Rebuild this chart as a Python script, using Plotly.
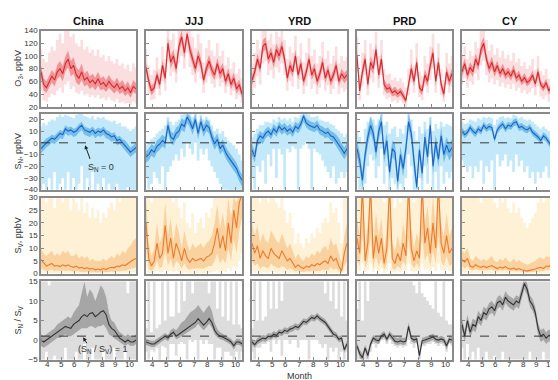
import plotly.graph_objects as go

W, H = 558, 380
REGIONS = ["China", "JJJ", "YRD", "PRD", "CY"]
MONTH_TICKS = [4, 5, 6, 7, 8, 9, 10]
DAYS = list(range(0, 211, 6))  # sampling days from 1 April

# ---------------- O3 (ppbV) ----------------
O3_CHINA_MED = [75,55,50,60,68,62, 75,80,72,88,95,80, 85,70,65,75,62,66, 58,62,56,64,55,58, 52,60,54,50,56,48, 52,45,50,42,52,48]
O3_CHINA_ILO = [65,45,42,50,58,52, 64,68,60,76,82,68, 72,58,54,62,52,55, 48,52,46,53,46,48, 43,50,45,41,46,40, 43,37,41,34,43,40]
O3_CHINA_IHI = [85,65,60,70,78,72, 86,92,84,100,108,92, 98,82,78,88,72,77, 68,72,66,75,65,68, 62,70,63,59,66,57, 62,54,60,51,62,57]
O3_CHINA_OLO = [45,30,28,35,40,38, 45,50,42,55,60,48, 52,42,40,45,38,40, 35,38,34,38,32,34, 30,35,30,28,32,26, 28,25,26,22,28,25]
O3_CHINA_OHI = [110,95,90,105,115,108, 125,135,120,140,140,130, 135,120,115,125,110,115, 105,110,100,110,98,102, 92,100,92,88,95,85, 88,80,86,76,88,82]

O3_JJJ_MED = [82,60,45,50,70,55, 85,65,120,90,100,80, 115,130,105,135,110,95, 80,100,88,62,80,92, 78,70,88,72,80,60, 72,55,65,48,55,40]
O3_JJJ_ILO = [74,52,38,43,62,47, 76,56,110,80,90,71, 105,120,95,125,100,85, 71,90,79,54,71,82, 69,62,79,63,71,52, 63,47,56,40,47,33]
O3_JJJ_IHI = [90,68,53,58,78,63, 94,74,130,100,110,89, 125,140,115,140,120,105, 89,110,97,70,89,102, 87,78,97,81,89,68, 81,63,74,56,63,48]
O3_JJJ_OLO = [60,40,30,32,48,38, 60,45,90,68,75,58, 88,100,80,105,82,70, 58,75,64,42,58,68, 56,50,64,52,58,42, 52,38,45,32,38,26]
O3_JJJ_OHI = [110,85,70,78,98,80, 115,95,140,125,135,110, 140,140,140,140,140,130, 112,135,120,90,112,125, 108,100,120,100,108,85, 98,80,90,72,80,65]

O3_YRD_MED = [62,75,95,80,115,120, 95,105,90,110,100,115, 95,65,85,75,100,70, 88,60,75,95,70,80, 60,72,90,65,78,60, 70,85,60,72,65,70]
O3_YRD_ILO = [54,66,86,72,105,110, 86,96,81,100,91,105, 86,57,76,67,90,62, 79,52,67,86,62,71, 52,64,81,57,70,52, 62,76,52,64,57,62]
O3_YRD_IHI = [70,84,104,89,125,130, 104,114,99,120,109,125, 104,73,94,83,110,78, 97,68,83,104,78,89, 68,80,99,73,86,68, 78,94,68,80,73,78]
O3_YRD_OLO = [40,50,68,55,88,92, 70,78,65,82,74,88, 70,45,60,52,75,48, 62,40,52,68,48,56, 40,50,62,45,54,40, 48,60,40,50,44,48]
O3_YRD_OHI = [88,105,125,110,140,140, 125,135,118,138,130,140, 125,95,115,105,132,100, 120,90,105,128,100,110, 88,100,122,95,108,88, 100,115,88,100,92,98]

O3_PRD_MED = [100,45,75,95,55,90, 80,110,70,95,55,48, 50,42,45,40,44,38, 30,55,80,60,90,50, 45,70,60,85,105,60, 90,55,40,75,60,72]
O3_PRD_ILO = [90,38,66,85,47,80, 71,100,61,85,47,41, 43,36,38,34,38,32, 25,47,71,52,80,43, 38,61,52,75,95,52, 80,47,33,66,52,63]
O3_PRD_IHI = [110,53,84,105,63,100, 89,120,79,105,63,55, 57,48,52,46,50,44, 35,63,89,68,100,57, 52,79,68,95,115,68, 100,63,47,84,68,81]
O3_PRD_OLO = [75,30,52,70,38,65, 58,85,50,70,38,32, 35,28,30,26,30,25, 20,38,58,42,68,35, 30,52,42,62,80,42, 68,38,28,55,42,52]
O3_PRD_OHI = [130,70,105,125,80,120, 110,138,100,125,80,70, 72,62,66,60,65,58, 50,80,110,85,120,75, 68,100,88,115,135,88, 120,80,62,105,88,100]

O3_CY_MED = [75,88,70,82,75,95, 85,110,120,95,80,90, 75,85,72,80,70,75, 68,78,65,70,60,66, 58,62,70,56,75,55, 50,58,45,52,42,58]
O3_CY_ILO = [67,80,62,74,67,86, 77,100,110,86,72,81, 67,77,65,72,63,68, 61,70,58,63,54,59, 52,56,63,50,67,49, 44,52,39,46,36,51]
O3_CY_IHI = [83,96,78,90,83,104, 93,120,130,104,88,99, 83,93,79,88,77,82, 75,86,72,77,66,73, 64,68,77,62,83,61, 56,64,51,58,48,65]
O3_CY_OLO = [55,65,50,60,55,72, 62,85,92,70,58,65, 55,62,52,58,50,55, 48,56,45,50,42,46, 40,43,50,38,52,36, 32,38,28,34,25,38]
O3_CY_OHI = [100,115,95,108,100,122, 112,140,140,125,108,118, 102,112,98,108,96,102, 92,105,90,96,84,90, 80,85,95,78,100,76, 70,80,64,72,60,80]

# ---------------- S_N (ppbV) ----------------
SN_CHINA_MED = [-5,-2,0,2,4,3, 6,8,7,12,10,11, 9,10,13,15,11,10, 9,11,8,10,9,11, 8,7,5,6,2,3, 0,-2,-5,-8,-6,-4]
SN_CHINA_ILO = [-9,-6,-4,-2,0,-1, 2,4,3,8,6,7, 5,6,9,11,7,6, 5,7,4,6,5,7, 4,3,1,2,-2,-1, -4,-6,-9,-12,-10,-8]
SN_CHINA_IHI = [-1,2,4,5,7,6, 9,11,10,15,13,14, 12,13,16,18,14,13, 12,14,11,13,12,14, 11,10,8,9,5,6, 3,2,-1,-4,-2,0]
SN_CHINA_OLO = [-40,-35,-41,-30,-41,-25, -41,-35,-30,-41,-25,-41, -30,-41,-35,-20,-41,-30, -41,-25,-41,-35,-41,-30, -41,-35,-41,-41,-35,-41, -41,-41,-38,-41,-41,-41]
SN_CHINA_OHI = [14,17,15,18,20,19, 22,24,22,24,23,22, 21,24,25,26,23,22, 21,23,20,22,21,22, 20,19,18,19,16,17, 14,14,12,10,12,14]

SN_JJJ_MED = [-12,-10,-6,-8,-3,-1, 2,0,15,5,3,8, 10,16,14,22,18,12, 20,8,18,10,15,13, 5,-1,3,-5,-2,-8, -12,-15,-18,-22,-28,-32]
SN_JJJ_ILO = [-17,-15,-11,-13,-8,-6, -3,-5,9,0,-2,3, 5,11,9,17,13,7, 15,3,13,5,10,8, 0,-6,-2,-10,-7,-13, -17,-20,-23,-27,-33,-37]
SN_JJJ_IHI = [-7,-5,-1,-3,2,4, 7,5,20,10,8,13, 15,21,19,25,23,17, 25,13,23,15,20,18, 10,4,8,0,3,-3, -7,-10,-13,-17,-23,-27]
SN_JJJ_OLO = [-30,-40,-35,-25,-30,-35, -20,-40,-25,-20,-15,-10, -15,-5,-12,0,-5,-10, 0,-15,-5,-10,-5,-15, -20,-25,-30,-35,-40,-40, -41,-41,-41,-41,-41,-41]
SN_JJJ_OHI = [-2,0,3,5,8,10, 12,15,22,18,15,18, 20,24,26,26,26,22, 26,18,24,20,22,20, 15,10,12,8,10,5, 2,0,-2,-5,-10,-15]

SN_YRD_MED = [-6,-12,2,6,4,8, 10,7,12,9,14,11, 13,10,12,9,14,12, 16,23,17,15,14,13, 15,11,10,8,9,6, 5,2,-1,-5,-9,-5]
SN_YRD_ILO = [-11,-17,-3,1,-1,4, 6,3,8,5,10,7, 9,6,8,5,10,8, 12,18,13,11,10,9, 11,7,6,4,5,2, 1,-3,-6,-10,-14,-10]
SN_YRD_IHI = [-1,-7,7,10,8,12, 14,11,16,13,18,15, 17,14,16,13,18,16, 20,25,21,19,18,17, 19,15,14,12,13,10, 9,7,4,0,-4,0]
SN_YRD_OLO = [-30,-40,-20,-25,-15,-35, -10,-20,-5,-30,-5,-10, -40,-5,-8,-3,-5,-40, -5,-2,0,-5,-40,-5, -8,-10,-15,-20,-25,-30, -20,-35,-30,-25,-30,-25]
SN_YRD_OHI = [5,8,12,15,15,18, 18,17,20,18,22,20, 21,19,21,18,22,21, 24,26,26,24,22,22, 23,20,19,18,18,16, 15,12,10,8,5,8]

SN_PRD_MED = [-5,-15,-32,-10,5,15, 8,-8,10,18,-10,2, -25,-5,-8,-33,-10,-22, -5,18,8,-18,-38,-6, -26,5,-12,15,-20,0, -14,6,-10,-2,-8,-4]
SN_PRD_ILO = [-12,-22,-40,-17,-2,8, 1,-15,3,11,-17,-5, -32,-12,-15,-40,-17,-29, -12,11,1,-25,-40,-13, -33,-2,-19,8,-27,-7, -21,-1,-17,-9,-15,-11]
SN_PRD_IHI = [2,-8,-25,-3,12,22, 15,-1,17,25,-3,9, -18,2,-1,-26,-3,-15, 2,25,15,-11,-31,1, -19,12,-5,22,-13,7, -7,13,-3,5,-1,3]
SN_PRD_OLO = [-30,-41,-41,-35,-20,-10, -15,-30,-20,-5,-35,-20, -41,-30,-35,-41,-35,-41, -30,-10,-20,-41,-41,-30, -41,-20,-35,-10,-41,-25, -41,-20,-35,-25,-30,-25]
SN_PRD_OHI = [10,5,0,12,18,22, 20,15,20,26,15,18, 8,12,14,5,12,8, 15,26,20,10,2,14, 8,18,12,22,10,16, 12,18,14,16,15,14]

SN_CY_MED = [10,7,9,13,10,8, 12,10,15,12,14,13, 3,11,14,16,12,15, 14,17,18,13,14,12, 11,13,9,7,5,2, 6,4,0,-3,5,10]
SN_CY_ILO = [7,4,6,10,7,5, 9,7,12,9,11,10, 0,8,11,13,9,12, 11,14,15,10,11,9, 8,10,6,4,2,-1, 3,1,-3,-6,2,7]
SN_CY_IHI = [13,10,12,16,13,11, 15,13,18,15,17,16, 6,14,17,19,15,18, 17,20,21,16,17,15, 14,16,12,10,8,5, 9,7,3,0,8,13]
SN_CY_OLO = [-15,-20,-25,-20,-30,-20, -25,-15,-35,-20,-25,-15, -41,-10,-20,-15,-10,-20, -15,-25,-10,-20,-15,-25, -20,-30,-25,-35,-25,-30, -25,-20,-30,-25,-20,-15]
SN_CY_OHI = [18,16,17,20,19,18, 21,20,22,21,22,21, 15,20,22,23,21,22, 21,24,23,21,22,20, 19,20,18,16,14,12, 14,12,10,8,14,18]

# ---------------- S_V (ppbV) ----------------
SV_CHINA_MED = [5.5,4,3,3.5,4,3, 3.2,2.8,3.5,3,3.5,2.8, 2.5,3,2.2,2.5,2,2.3, 1.8,2,1.5,1.8,1.5,2, 1.6,2.2,2.5,2.3,3,2.8, 3.5,3.2,4,4.5,5.5,6]
SV_CHINA_ILO = [2,1.5,1,1.2,1.5,1, 1.2,1,1.2,1,1.2,1, 0.8,1,0.8,0.8,0.6,0.8, 0.5,0.6,0.5,0.5,0.5,0.6, 0.5,0.7,0.8,0.7,1,0.9, 1.2,1,1.5,1.8,2,2.5]
SV_CHINA_IHI = [10,8,7,8,9,7, 8,7,9,8,9,7, 7,8,6,7,6,7, 5,6,5,5,5,6, 5,6,7,6,8,7, 9,8,10,11,13,14]
SV_CHINA_OLO = [0.4,0.3,0.3,0.3,0.3,0.2, 0.3,0.2,0.3,0.2,0.3,0.2, 0.2,0.2,0.2,0.2,0.1,0.2, 0.1,0.1,0.1,0.1,0.1,0.1, 0.1,0.2,0.2,0.2,0.2,0.2, 0.3,0.3,0.3,0.4,0.5,0.5]
SV_CHINA_OHI = [31,31,28,31,31,26, 31,31,28,31,31,25, 31,28,25,31,24,28, 22,26,22,25,20,24, 22,26,28,25,31,28, 31,31,31,31,31,31]

SV_JJJ_MED = [20,6,3,5,12,6, 8,19,8,14,6,12, 9,5,10,6,4.5,6, 5,5.5,6,5,6.5,7, 8,12,18,10,15,9, 20,12,25,18,28,31]
SV_JJJ_ILO = [10,2,1,2,5,2, 3,9,3,6,2,5, 4,2,4,2,1.5,2, 2,2,2,2,2.5,3, 3,5,8,4,6,4, 10,5,14,8,17,22]
SV_JJJ_IHI = [30,12,7,10,20,12, 15,28,15,22,12,20, 16,10,17,12,9,12, 10,11,12,10,12,13, 15,20,27,18,24,17, 30,22,30,28,31,31]
SV_JJJ_OLO = [2,0.5,0.3,0.5,1,0.5, 0.5,1.5,0.5,1,0.5,1, 0.5,0.3,0.5,0.3,0.2,0.3, 0.3,0.3,0.3,0.3,0.3,0.4, 0.5,0.8,1.5,0.6,1,0.6, 2,1,3,2,5,8]
SV_JJJ_OHI = [31,31,28,31,31,31, 31,31,31,31,28,31, 26,22,28,20,18,24, 16,20,22,18,24,22, 26,31,31,31,31,31, 31,31,31,31,31,31]

SV_YRD_MED = [12,8,11,6,9,7, 6,10,8,7,6,9, 7,5,6,4.5,2.5,3.5, 2.5,2,3,2.5,3.5,3, 4,3.5,4.5,5,4,7, 5,6,3,1,8,12]
SV_YRD_ILO = [5,3,4,2,3,2.5, 2,4,3,2.5,2,3, 2.5,1.5,2,1.5,0.8,1, 0.8,0.6,1,0.8,1,1, 1.2,1,1.5,1.5,1.2,2.5, 1.5,2,1,0.3,3,5]
SV_YRD_IHI = [20,15,19,12,16,13, 12,17,15,13,12,16, 13,10,12,9,6,8, 6,5,7,6,8,7, 9,8,10,11,9,14, 11,12,8,4,15,20]
SV_YRD_OLO = [1,0.5,0.8,0.4,0.5,0.4, 0.3,0.6,0.5,0.4,0.3,0.5, 0.4,0.2,0.3,0.2,0.1,0.1, 0.1,0.1,0.1,0.1,0.1,0.1, 0.2,0.1,0.2,0.2,0.2,0.4, 0.2,0.3,0.1,0.05,0.5,1]
SV_YRD_OHI = [31,31,31,28,31,31, 28,31,31,28,26,31, 25,20,24,18,12,16, 12,10,14,12,16,14, 18,16,20,22,20,28, 24,26,20,12,31,31]

SV_PRD_MED = [14,8,35,5,12,35, 6,15,8,14,4,10, 35,6,4,8,5,12, 7,35,10,5,9,6, 35,12,18,8,20,10, 35,12,8,15,8,10]
SV_PRD_ILO = [6,3,15,2,5,15, 2,7,3,6,1.5,4, 15,2,1.5,3,2,5, 3,14,4,2,4,2, 15,5,8,3,9,4, 15,5,3,7,3,4]
SV_PRD_IHI = [22,15,35,11,20,35, 12,24,15,22,9,18, 35,12,9,15,10,20, 14,35,18,10,16,12, 35,20,27,15,31,18, 35,20,15,24,15,18]
SV_PRD_OLO = [2,1,4,0.5,1.5,4, 0.6,2,1,2,0.4,1, 4,0.6,0.4,1,0.5,1.5, 0.8,4,1,0.5,1,0.6, 4,1.5,2,1,2.5,1, 4,1.5,1,2,1,1]
SV_PRD_OHI = [32,32,32,32,32,32, 32,32,32,32,28,32, 32,32,26,32,28,32, 32,32,32,28,32,32, 32,32,32,32,32,32, 32,32,32,32,32,32]

SV_CY_MED = [5.5,4.5,6,3,2.5,3.5, 2.8,2.5,3,2.4,2.8,3.2, 2.5,2,2.6,2.2,2.8,2, 1.8,2.2,1.6,2,1.5,1.2, 1,1.3,1.5,1.8,2.2,2.5, 2,3,2.8,4,6,5]
SV_CY_ILO = [3,2,3,1.5,1.2,1.8, 1.4,1.2,1.5,1.2,1.4,1.6, 1.2,1,1.3,1.1,1.4,1, 0.9,1.1,0.8,1,0.7,0.6, 0.5,0.6,0.7,0.9,1.1,1.2, 1,1.5,1.4,2,3,2.5]
SV_CY_IHI = [9,8,10,6,5,7, 6,5,6,5,6,7, 5,4.5,6,5,6.5,5, 4.5,6,4.5,5.5,4.5,4, 3.5,4,4.5,5,6,6.5, 5.5,7,6.5,8,10,9]
SV_CY_OLO = [0.5,0.4,0.5,0.3,0.3,0.3, 0.3,0.3,0.3,0.3,0.3,0.3, 0.3,0.2,0.3,0.2,0.3,0.2, 0.2,0.2,0.2,0.2,0.2,0.1, 0.1,0.1,0.2,0.2,0.2,0.3, 0.2,0.3,0.3,0.4,0.5,0.5]
SV_CY_OHI = [31,31,31,31,31,31, 31,28,31,31,31,31, 28,26,31,28,31,26, 24,28,24,26,22,20, 18,20,22,24,28,31, 28,31,31,31,31,31]

# ---------------- S_N / S_V ----------------
RT_CHINA_MED = [0,-0.5,0,0.5,1,1.5, 2,2.5,3,3.5,3.2,3, 4,4.5,5,6,6.5,6, 6.8,7,6,6.5,7.2,7.5, 6.5,4,3,2.5,1.5,0.5, 0,-0.5,0,-0.5,-0.5,0]
RT_CHINA_ILO = [-1.5,-2,-1.5,-1,-0.5,0, 0.5,0.5,1,1.5,1,1, 1.5,2,2.5,3,3,3, 3.5,3.5,3,3.5,3.5,4, 3,1.5,1,0.5,0,-0.5, -1,-1.5,-1,-1.5,-1.5,-1]
RT_CHINA_IHI = [1.5,1,1.5,2,2.5,3, 4,4.5,5,5.5,6,5.5, 7,8,9,12,15,11, 13,12,10,12,14,13, 11,7,5,4.5,3,2, 1.5,1,1.5,1,1,1.5]
RT_CHINA_OLO = [-6,-6,-3,-6,-6,-4, -6,-6,-6,-2,-6,-6, -6,-3,-6,-6,-1,-6, -6,-2,-6,-6,-6,-3, -6,-6,-6,-2,-6,-6, -6,-3,-6,-6,-6,-6]
RT_CHINA_OHI = [16,16,16,14,16,16, 16,16,16,16,16,16, 16,16,16,16,16,16, 16,16,16,16,16,16, 16,16,16,16,16,16, 16,16,12,16,16,16]

RT_JJJ_MED = [-0.5,-0.8,-1,-1,-0.5,0, 0.5,1,0.5,1.5,2,1, 1.5,2,2.5,3,3.5,4, 4.5,5.5,4.5,3.8,4.5,5.5, 4.5,2.5,1.5,1,0.8,0.5, 0,-0.5,-1.5,-0.5,-0.5,-1]
RT_JJJ_ILO = [-1.3,-1.6,-1.8,-1.8,-1.3,-0.8, -0.3,0.2,-0.3,0.7,1.2,0.2, 0.5,1,1.5,2,2.3,2.8, 3.2,4.2,3.2,2.5,3.2,4.2, 3.2,1.5,0.7,0.2,0,-0.3, -0.8,-1.3,-2.5,-1.3,-1.3,-1.8]
RT_JJJ_IHI = [0.3,0,-0.2,-0.2,0.3,0.8, 1.3,1.8,1.3,2.5,3,2.5, 3.5,4.5,5,6,7,7.5, 8,9,8,7,8,9, 7.5,4.5,2.8,2,1.6,1.3, 0.8,0.3,-0.5,0.3,0.3,-0.2]
RT_JJJ_OLO = [-3,-6,-2.5,-3,-2,-6, -1.5,-2,-6,-1,-1,-4, -1,-0.5,-1,-6,0,-0.5, 0,-6,0,-1,0,-1, -1,-6,-2,-2,-6,-3, -3,-4,-6,-3,-6,-3]
RT_JJJ_OHI = [3,16,2,16,3,4, 16,5,16,6,6,16, 7,16,10,16,16,12, 16,16,16,16,16,12, 16,16,8,16,6,16, 5,16,4,16,4,3]

RT_YRD_MED = [-0.5,-1.2,-0.3,0,0.5,0.3, 1,0.8,1.5,1.2,2,1.8, 2.5,2.2,2.8,3,3.5,3.2, 4,4.8,4.5,5.2,5.8,5.5, 6.2,5.5,5,4.5,3.5,2.5, 1.5,1.2,0.2,0.5,-2.5,-1]
RT_YRD_ILO = [-1.3,-2,-1.1,-0.8,-0.3,-0.5, 0.2,0,0.7,0.4,1.2,1, 1.7,1.4,2,2.2,2.7,2.4, 3.2,4,3.7,4.4,5,4.7, 5.4,4.7,4.2,3.7,2.7,1.7, 0.7,0.4,-0.6,-0.3,-3.3,-1.8]
RT_YRD_IHI = [0.3,-0.4,0.5,0.8,1.3,1.1, 1.8,1.6,2.3,2,2.8,2.6, 3.3,3,3.6,3.8,4.3,4, 4.8,5.6,5.3,6,6.6,6.3, 7,6.3,5.8,5.3,4.3,3.3, 2.3,2,1,1.3,-1.7,-0.2]
RT_YRD_OLO = [-3,-6,-2,-2,-1,-1, -0.5,-3,0,-1,0,-4, 0,0,-1,0,0,-2, 0,0,0,-6,0,0, 0,-1,-2,-1,-6,-2, -3,-2,-6,-3,-6,-3]
RT_YRD_OHI = [3,16,5,16,5,6, 16,8,16,8,16,10, 16,16,16,16,16,16, 16,16,16,16,16,16, 16,16,16,12,16,10, 16,8,16,6,16,5]

RT_PRD_MED = [-1.5,-3.5,-4.5,-2,-4,-1, 0.5,0,-0.2,1,1.5,0.2, 1.5,0.5,-0.3,-0.5,-0.2,-0.5, -0.3,3.5,0.5,0,0.3,-4, -0.2,0,0.2,0.5,0.8,0.2, 0,0.3,0,-1.5,0.2,0]
RT_PRD_ILO = [-2.3,-4.5,-5.5,-2.8,-5,-1.8, -0.3,-0.8,-1,0.2,0.7,-0.6, 0.7,-0.3,-1.1,-1.3,-1,-1.3, -1.1,2.5,-0.3,-0.8,-0.5,-5, -1,-0.8,-0.6,-0.3,0,-0.6, -0.8,-0.5,-0.8,-2.5,-0.6,-0.8]
RT_PRD_IHI = [-0.7,-2.5,-3.5,-1.2,-3,-0.2, 1.3,0.8,0.6,1.8,2.3,1, 2.3,1.5,0.7,0.5,0.8,0.5, 0.7,4.5,1.3,0.8,1.1,-3, 0.6,0.8,1,1.3,1.6,1, 0.8,1.1,0.8,-0.5,1,0.8]
RT_PRD_OLO = [-6,-6,-6,-6,-6,-3, -1,-2,-1,0,0,-1, 0,-1,-1.5,-2,-1.5,-2, -1.5,0,-1,-2,-1,-6, -1.5,-1.5,-1,-1,-0.5,-1, -1.5,-1,-1.5,-3,-1,-1.5]
RT_PRD_OHI = [8,16,5,16,10,16, 16,16,16,16,16,16, 16,16,16,16,16,16, 16,16,16,14,12,16, 12,11,10,9,8,16, 7,6,16,5,4,4]

RT_CY_MED = [4,1,5,2,4,3.5, 6,5,7,6.5,8,8.5, 7.5,9.5,10,9,11,10, 9.5,9,10,9.5,12,14.5, 13,10,9,7,3,1, 1.5,0.5,1.2,0.8,1,1.2]
RT_CY_ILO = [2.5,-0.5,3.5,0.5,2.5,2, 4.5,3.5,5.5,5,6.5,7, 6,8,8.5,7.5,9.5,8.5, 8,7.5,8.5,8,10.5,13, 11.5,8.5,7.5,5.5,1.5,-0.5, 0,-1,-0.3,-0.7,-0.5,-0.3]
RT_CY_IHI = [5.5,2.5,6.5,3.5,5.5,5, 7.5,6.5,8.5,8,9.5,10, 9,11,11.5,10.5,12.5,11.5, 11,10.5,11.5,11,13.5,16, 14.5,11.5,10.5,8.5,4.5,2.5, 3,2,2.7,2.3,2.5,2.7]
RT_CY_OLO = [-2,-6,-1,-6,-3,-6, -2,-6,-6,-3,-6,-6, -4,-6,-6,-3,-6,-6, -6,-6,-6,-6,-6,-6, -6,-3,-6,-6,-6,-6, -3,-6,-6,-2,-6,-4]
RT_CY_OHI = [16,16,16,16,16,16, 16,16,16,16,16,16, 16,16,16,16,16,16, 16,16,16,16,16,16, 16,16,16,16,16,16, 16,16,16,16,16,16]

# ---------------- assemble ----------------
G = globals()
VARS = ["O3", "SN", "SV", "RT"]
KEYS = ["CHINA", "JJJ", "YRD", "PRD", "CY"]

ROWS = [
    dict(rng=[20, 140], ticks=list(range(20, 141, 20)), title="O<sub>3</sub>, ppbV", ref=None,
         outer="rgba(240,120,125,0.24)", inner="rgba(225,60,65,0.45)", line="#d9282d"),
    dict(rng=[-40, 25], ticks=list(range(-40, 21, 10)), title="S<sub>N</sub>, ppbV", ref=0,
         outer="rgba(120,205,245,0.45)", inner="rgba(40,150,220,0.50)", line="#1f62c4"),
    dict(rng=[0, 30], ticks=list(range(0, 31, 5)), title="S<sub>V</sub>, ppbV", ref=None,
         outer="rgba(252,210,120,0.30)", inner="rgba(245,165,80,0.40)", line="#ec7b2c"),
    dict(rng=[-5, 15], ticks=list(range(-5, 16, 5)), title="S<sub>N</sub> / S<sub>V</sub>", ref=1,
         outer="rgba(170,170,170,0.40)", inner="rgba(100,100,100,0.45)", line="#333333"),
]

COL_PX = [(33, 128), (138, 234), (244, 339), (349, 444), (454, 549)]
ROW_PX = [(19, 97), (104, 182), (190, 268), (276, 356)]
X_RANGE = [3.52, 10.48]
X = [X_RANGE[0] + d * (X_RANGE[1] - X_RANGE[0]) / 210 for d in DAYS]

FRAME = "#8a8a8a"
TXT = "#333333"
FONT = "Arial, Liberation Sans, sans-serif"

fig = go.Figure()
layout = dict(width=W, height=H, margin=dict(l=0, r=0, t=0, b=0),
              paper_bgcolor="white", plot_bgcolor="white", showlegend=False,
              font=dict(family=FONT, size=8, color=TXT))
shapes, annotations = [], []

for r, row in enumerate(ROWS):
    for c, key in enumerate(KEYS):
        n = r * 5 + c + 1
        xa = "x" if n == 1 else f"x{n}"
        ya = "y" if n == 1 else f"y{n}"
        pre = f"{VARS[r]}_{key}_"
        med, ilo, ihi, olo, ohi = (G[pre + s] for s in ["MED", "ILO", "IHI", "OLO", "OHI"])
        common = dict(x=X, xaxis=xa, yaxis=ya, hoverinfo="skip", mode="lines")
        fig.add_trace(go.Scatter(y=olo, line=dict(width=0, color=row["outer"], shape="hvh"), **common))
        fig.add_trace(go.Scatter(y=ohi, line=dict(width=0, color=row["outer"], shape="hvh"),
                                 fill="tonexty", fillcolor=row["outer"], **common))
        fig.add_trace(go.Scatter(y=ilo, line=dict(width=0, color=row["inner"]), **common))
        fig.add_trace(go.Scatter(y=ihi, line=dict(width=0, color=row["inner"]), fill="tonexty",
                                 fillcolor=row["inner"], **common))
        fig.add_trace(go.Scatter(y=med, line=dict(width=1.1, color=row["line"]), **common))

        x0, x1 = COL_PX[c]
        y0, y1 = ROW_PX[r]
        axis_common = dict(showline=True, linecolor=FRAME, linewidth=1.5, mirror=True,
                           showgrid=False, zeroline=False, ticks="inside", ticklen=3,
                           tickwidth=1, tickcolor=FRAME, tickfont=dict(size=8, color=TXT))
        layout["xaxis" if n == 1 else f"xaxis{n}"] = dict(
            domain=[x0 / W, x1 / W], anchor=ya, range=X_RANGE, tickvals=MONTH_TICKS,
            showticklabels=False, **axis_common)
        layout["yaxis" if n == 1 else f"yaxis{n}"] = dict(
            domain=[1 - y1 / H, 1 - y0 / H], anchor=xa, range=row["rng"], tickvals=row["ticks"],
            showticklabels=(c == 0), **axis_common)
        if row["ref"] is not None:
            shapes.append(dict(type="line", xref=f"{xa} domain", yref=ya, x0=0, x1=1,
                               y0=row["ref"], y1=row["ref"],
                               line=dict(color="#333333", width=1, dash="dash")))
        if r == 3:
            # month labels, placed on the axis' own scale just under the frame
            for m in MONTH_TICKS:
                annotations.append(dict(text=str(m), x=m, xref=xa, y=1 - 361.5 / H, yref="paper",
                                        showarrow=False, font=dict(size=8, color=TXT), borderpad=0,
                                        xanchor="center", yanchor="middle"))

    yc = 1 - (ROW_PX[r][0] + ROW_PX[r][1]) / 2 / H
    annotations.append(dict(text=row["title"], x=11 / W, y=yc, xref="paper", yref="paper",
                            textangle=-90, showarrow=False, font=dict(size=9, color=TXT),
                            xanchor="center", yanchor="middle"))

for c, name in enumerate(REGIONS):
    xc = (COL_PX[c][0] + COL_PX[c][1]) / 2 / W
    annotations.append(dict(text=f"<b>{name}</b>", x=xc, y=1 - 9 / H, xref="paper", yref="paper",
                            showarrow=False, font=dict(size=11, color="#111111"),
                            xanchor="center", yanchor="middle"))

annotations.append(dict(text="Month", x=(COL_PX[2][0] + COL_PX[2][1]) / 2 / W, y=1.5 / H,
                        xref="paper", yref="paper", showarrow=False, borderpad=0,
                        font=dict(size=9, color=TXT), xanchor="center", yanchor="bottom"))

# S_N = 0 callout (China, row 2)
annotations.append(dict(text="S<sub>N</sub> = 0", x=7.9, y=-21, xref="x6", yref="y6",
                        showarrow=False, font=dict(size=9, color=TXT)))
annotations.append(dict(text="", x=6.75, y=-2, xref="x6", yref="y6", ax=7.15, ay=-15,
                        axref="x6", ayref="y6", showarrow=True, arrowhead=2, arrowsize=0.8,
                        arrowwidth=1, arrowcolor="#222222"))
# ratio = 1 callout (China, row 4)
annotations.append(dict(text="(S<sub>N</sub> / S<sub>V</sub>) = 1", x=8.05, y=-2.4, xref="x16",
                        yref="y16", showarrow=False, font=dict(size=9, color=TXT)))
annotations.append(dict(text="", x=6.6, y=0.7, xref="x16", yref="y16", ax=6.95, ay=-1.2,
                        axref="x16", ayref="y16", showarrow=True, arrowhead=2, arrowsize=0.8,
                        arrowwidth=1, arrowcolor="#222222"))

layout["shapes"] = shapes
layout["annotations"] = annotations
fig.update_layout(**layout)
fig.write_html("out.html")
